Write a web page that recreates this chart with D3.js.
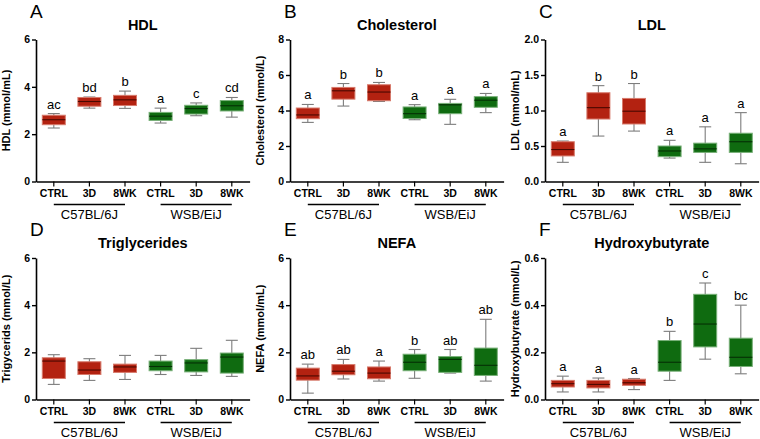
<!DOCTYPE html>
<html><head><meta charset="utf-8">
<script src="https://cdn.jsdelivr.net/npm/d3@7"></script>
<style>
body{margin:0;background:#fff}
svg{display:block}
text{font-family:"Liberation Sans",Arial,Helvetica,sans-serif;fill:#000}
</style>
</head><body>
<svg id="chart" width="760" height="439"></svg>
<script>
// ---------- data ----------
const categories = ["CTRL","3D","8WK","CTRL","3D","8WK"];
const strains = ["C57BL/6J","WSB/EiJ"];
const strainOf = [0,0,0,1,1,1];

// each entry: [min, q1, median, q3, max]
const hdl = [[2.26,2.40,2.61,2.80,2.87],[3.10,3.18,3.38,3.55,3.57],[3.09,3.21,3.45,3.64,3.82],
             [2.47,2.58,2.76,2.92,3.10],[2.78,2.85,3.08,3.22,3.32],[2.72,2.98,3.20,3.42,3.55]];
const cholesterol = [[3.33,3.54,3.75,4.14,4.34],[4.25,4.64,5.11,5.30,5.52],[4.51,4.55,5.04,5.45,5.58],
                     [3.48,3.55,3.82,4.20,4.33],[3.22,3.82,4.32,4.40,4.63],[3.88,4.18,4.58,4.78,4.96]];
const ldl = [[0.27,0.36,0.45,0.56,0.57],[0.64,0.88,1.04,1.25,1.35],[0.71,0.81,0.99,1.17,1.38],
             [0.33,0.35,0.43,0.50,0.58],[0.27,0.41,0.46,0.54,0.77],[0.25,0.41,0.56,0.68,0.97]];
const triglycerides = [[0.64,0.89,1.63,1.77,1.90],[0.81,1.06,1.25,1.60,1.73],[0.85,1.15,1.38,1.50,1.87],
                       [1.06,1.22,1.40,1.63,1.87],[1.02,1.17,1.55,1.69,2.17],[0.98,1.12,1.80,1.97,2.51]];
const nefa = [[0.27,0.82,1.00,1.33,1.50],[0.87,1.05,1.20,1.48,1.70],[0.78,0.88,1.12,1.38,1.63],
              [0.90,1.22,1.58,1.92,2.12],[1.12,1.15,1.70,1.82,2.12],[0.78,1.02,1.45,2.18,3.40]];
const hydroxybutyrate = [[0.032,0.053,0.067,0.081,0.099],[0.032,0.049,0.064,0.081,0.091],[0.042,0.060,0.071,0.086,0.089],
                         [0.081,0.120,0.158,0.250,0.289],[0.171,0.223,0.320,0.446,0.494],[0.109,0.140,0.179,0.260,0.400]];

const hdlLetters = ["ac","bd","b","a","c","cd"];
const cholLetters = ["a","b","b","a","a","a"];
const ldlLetters = ["a","b","b","a","a","a"];
const trigLetters = ["","","","","",""];
const nefaLetters = ["ab","ab","a","b","ab","ab"];
const hbLetters = ["a","a","a","b","c","bc"];

const hdlTicks = [0,2,4,6];
const cholTicks = [0,2,4,6,8];
const ldlTicks = [0,0.5,1.0,1.5,2.0];
const trigTicks = [0,2,4,6];
const nefaTicks = [0,2,4,6];
const hbTicks = [0,0.2,0.4,0.6];

// ---------- layout ----------
const panels = [
  {tag:"A", title:"HDL", ylab:"HDL (mmol/mL)", data:hdl, letters:hdlLetters, ticks:hdlTicks, fmt:d3.format("d"), col:0, row:0},
  {tag:"B", title:"Cholesterol", ylab:"Cholesterol (mmol/L)", data:cholesterol, letters:cholLetters, ticks:cholTicks, fmt:d3.format("d"), col:1, row:0},
  {tag:"C", title:"LDL", ylab:"LDL (mmol/mL)", data:ldl, letters:ldlLetters, ticks:ldlTicks, fmt:d3.format(".1f"), col:2, row:0},
  {tag:"D", title:"Triglycerides", ylab:"Trigycerids (mmol/L)", data:triglycerides, letters:trigLetters, ticks:trigTicks, fmt:d3.format("d"), col:0, row:1},
  {tag:"E", title:"NEFA", ylab:"NEFA (mmol/mL)", data:nefa, letters:nefaLetters, ticks:nefaTicks, fmt:d3.format("d"), col:1, row:1},
  {tag:"F", title:"Hydroxybutyrate", ylab:"Hydroxybutyrate (mmol/L)", data:hydroxybutyrate, letters:hbLetters, ticks:hbTicks, fmt:d3.format(".1f"), col:2, row:1}
];
const colX = [36, 290, 545];
const rowY = [[39.5,181.5],[258,399.5]];
const plotW = 213.6;
const boxW = 23, capW = 12;
const fills = ["#b32211","#0f6b10"];
const edges = ["#d77a6c","#78b078"];
const medians = ["#4a0800","#053005"];

const svg = d3.select("#chart");

panels.forEach(p => {
  const x0 = colX[p.col], yt = rowY[p.row][0], yb = rowY[p.row][1];
  const g = svg.append("g");
  const x = d3.scaleBand().domain(d3.range(categories.length)).range([x0, x0+plotW]).padding(0);
  const y = d3.scaleLinear().domain([0, d3.max(p.ticks)]).range([yb, yt]);
  const cx = i => x(i) + x.bandwidth()/2;

  // y axis
  const ya = g.append("g").attr("transform",`translate(${x0},0)`)
    .call(d3.axisLeft(y).tickValues(p.ticks).tickFormat(p.fmt).tickSize(4).tickSizeOuter(0).tickPadding(2));
  ya.select(".domain").attr("stroke","#000").attr("stroke-width",1.6);
  ya.selectAll(".tick line").attr("stroke","#000").attr("stroke-width",1.4);
  ya.selectAll(".tick text").attr("font-size",10.5).attr("font-weight","bold")
    .attr("font-family","'Liberation Sans',Arial,sans-serif").attr("fill","#000");

  // x axis
  const xa = g.append("g").attr("transform",`translate(0,${yb})`)
    .call(d3.axisBottom(x).tickFormat(i => categories[i]).tickSize(5).tickSizeOuter(0).tickPadding(3));
  xa.select(".domain").attr("stroke","#000").attr("stroke-width",1.6);
  xa.selectAll(".tick line").attr("stroke","#000").attr("stroke-width",1.2);
  xa.selectAll(".tick text").attr("font-size",10.5).attr("font-weight","bold")
    .attr("font-family","'Liberation Sans',Arial,sans-serif").attr("fill","#000");

  // group lines + labels
  strains.forEach((s, si) => {
    const idx = d3.range(categories.length).filter(i => strainOf[i] === si);
    const a = cx(idx[0]), b = cx(idx[idx.length-1]);
    g.append("line").attr("x1",a).attr("x2",b).attr("y1",yb+23).attr("y2",yb+23)
      .attr("stroke","#000").attr("stroke-width",1.6);
    g.append("text").attr("x",(a+b)/2).attr("y",yb+37.5).attr("text-anchor","middle")
      .attr("font-size",13).text(s);
  });

  // boxes
  p.data.forEach((d, i) => {
    const c = cx(i), si = strainOf[i];
    const [mn,q1,md,q3,mx] = d;
    g.append("line").attr("x1",c).attr("x2",c).attr("y1",y(mn)).attr("y2",y(mx))
      .attr("stroke","#7d7d7d").attr("stroke-width",1.1);
    [mn,mx].forEach(v => g.append("line").attr("x1",c-capW/2).attr("x2",c+capW/2)
      .attr("y1",y(v)).attr("y2",y(v)).attr("stroke","#7d7d7d").attr("stroke-width",1.1));
    g.append("rect").attr("x",c-boxW/2).attr("width",boxW)
      .attr("y",y(q3)).attr("height",y(q1)-y(q3))
      .attr("fill",fills[si]).attr("stroke",edges[si]).attr("stroke-width",1);
    g.append("line").attr("x1",c-boxW/2).attr("x2",c+boxW/2).attr("y1",y(md)).attr("y2",y(md))
      .attr("stroke",medians[si]).attr("stroke-width",1.1);
    if (p.letters[i]) {
      g.append("text").attr("x",c).attr("y",y(mx)-5).attr("text-anchor","middle")
        .attr("font-size",13).text(p.letters[i]);
    }
  });

  // y label
  g.append("text").attr("transform",`translate(${x0-26},${(yt+yb)/2}) rotate(-90)`)
    .attr("text-anchor","middle").attr("font-size",11).attr("font-weight","bold").text(p.ylab);
  // title
  g.append("text").attr("x",x0+plotW/2).attr("y",yt-10).attr("text-anchor","middle")
    .attr("font-size",14.5).attr("font-weight","bold").text(p.title);
  // panel tag
  g.append("text").attr("x",x0-6).attr("y",yt-22).attr("font-size",19).text(p.tag);
});
</script>
</body></html>
